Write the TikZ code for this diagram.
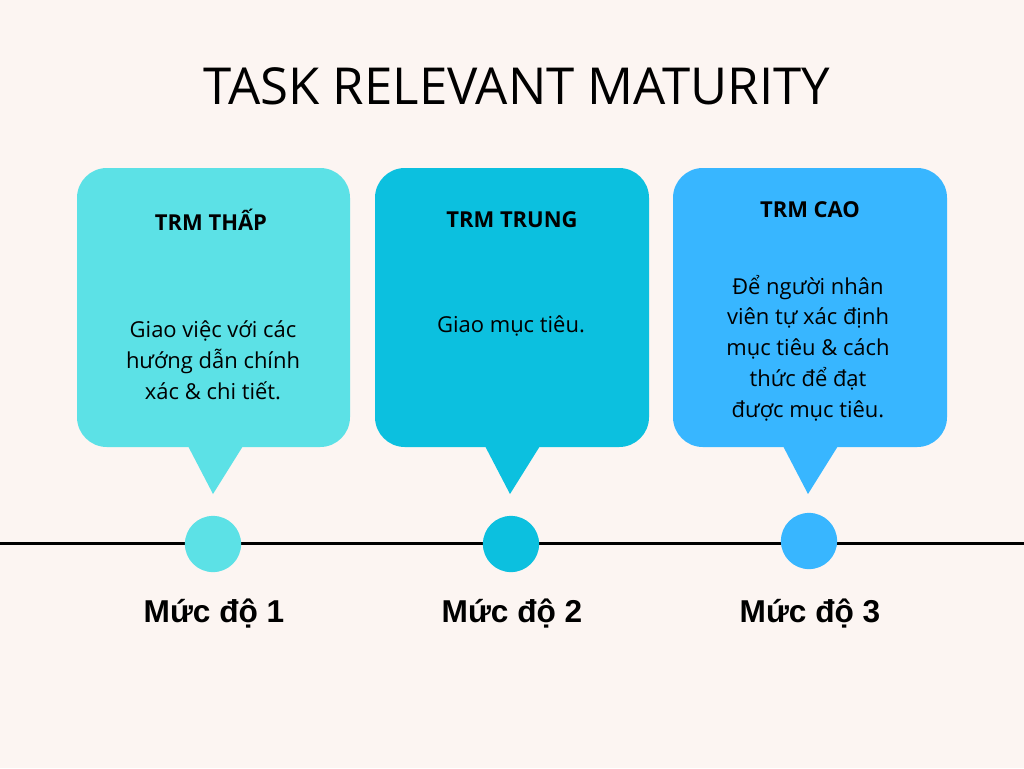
\documentclass[tikz,border=0pt]{standalone}
\usepackage{fontspec}
\setmainfont{Open Sans}
\newfontfamily\lvl{Liberation Sans}
\begin{document}
\begin{tikzpicture}[x=0.02cm,y=-0.02cm,
  bubble/.style={rounded corners=17pt},
  head/.style={font=\fontsize{12.5}{15}\selectfont\bfseries,anchor=center},
  body/.style={font=\fontsize{12.5}{17.5}\selectfont,align=center,anchor=center},
  lvltext/.style={font=\lvl\fontsize{18}{20}\selectfont\bfseries},
  dot/.style={circle,minimum size=32pt,inner sep=0pt}]
\definecolor{bg}{HTML}{FCF5F2}
\definecolor{cA}{HTML}{5CE1E6}
\definecolor{cB}{HTML}{0CC0DF}
\definecolor{cC}{HTML}{38B6FF}
\fill[bg] (0,0) rectangle (1024,768);
\useasboundingbox (0,0) rectangle (1024,768);
\node[font=\fontsize{29}{34}\selectfont] (title) at (517,86) {TASK RELEVANT MATURITY};
\draw[line width=1.7pt] (0,543) -- (1024,543);
% boxes
\fill[cA,bubble] (77,168) rectangle (350,447);
\fill[cA] (188,446) -- (243,446) -- (213,494) -- cycle;
\fill[cB,bubble] (375,168) rectangle (649,447);
\fill[cB] (485,446) -- (540,446) -- (510,494) -- cycle;
\fill[cC,bubble] (673,168) rectangle (947,447);
\fill[cC] (783,446) -- (838,446) -- (808,494) -- cycle;
\node[head] (h1) at (211,220) {TRM THẤP};
\node[head] (h2) at (512,220) {TRM TRUNG};
\node[head] (h3) at (810,210) {TRM CAO};
\node[body] (b1) at (213,360) {Giao việc với các\\hướng dẫn chính\\xác \& chi tiết.};
\node[body] (b2) at (511,326) {Giao mục tiêu.};
\node[body] (b3) at (808,348) {Để người nhân\\viên tự xác định\\mục tiêu \& cách\\thức để đạt\\được mục tiêu.};
\node[dot,fill=cA] (d1) at (213,544) {};
\node[dot,fill=cB] (d2) at (511,544) {};
\node[dot,fill=cC] (d3) at (809,541) {};
\node[lvltext] (l1) at (214,614) {Mức độ 1};
\node[lvltext] (l2) at (512,614) {Mức độ 2};
\node[lvltext] (l3) at (810,614) {Mức độ 3};
\end{tikzpicture}
\end{document}
